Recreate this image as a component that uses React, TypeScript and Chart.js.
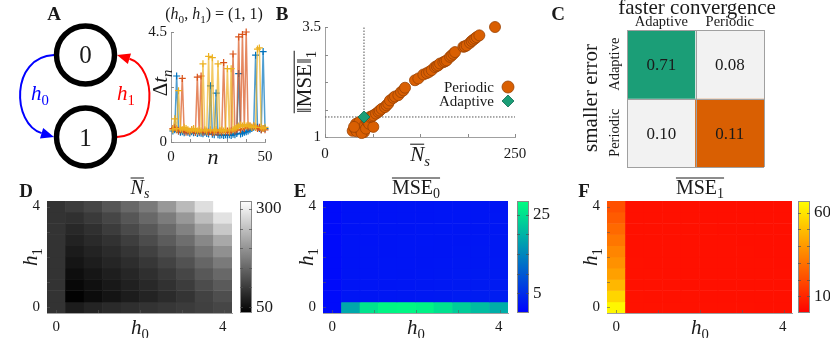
import React, { useEffect, useRef } from 'react';
import { Chart, registerables } from 'chart.js';

Chart.register(...registerables);

const SERIF = '"Liberation Serif", "DejaVu Serif", "Times New Roman", serif';
Chart.defaults.font.family = SERIF;
Chart.defaults.color = '#1a1a1a';

// ---------------- DATA ----------------
// A: two-state diagram
const STATES = ['0', '1'];
const STATE_X = [0, 0];
const STATE_Y = [1, 0];

// A inset: inter-sample intervals for (h0,h1) = (1,1)
const INSET_N = Array.from({ length: 50 }, (_, i) => i + 1);
const DT_BLUE = [0.45, 0.5, 2.7, 0.45, 0.4, 0.42, 0.38, 0.45, 0.4, 0.36, 0.42, 0.38, 0.4, 0.35, 0.38, 0.36, 0.34, 0.4, 0.35, 0.33, 2.3, 0.32, 0.3, 2.0, 0.3, 0.28, 0.3, 0.27, 0.3, 0.28, 0.3, 0.27, 0.32, 0.3, 0.35, 2.8, 0.33, 0.36, 0.4, 0.42, 0.45, 0.5, 0.55, 0.6, 3.55, 0.6, 0.55, 0.5, 3.7, 0.55];
const DT_ORANGE = [0.55, 0.6, 0.5, 0.45, 0.5, 2.6, 0.45, 0.4, 0.45, 0.42, 0.5, 0.45, 0.4, 2.65, 0.42, 2.7, 0.4, 0.45, 0.42, 0.4, 0.45, 0.38, 0.4, 0.42, 0.4, 0.45, 0.4, 3.25, 0.42, 0.45, 0.4, 0.45, 3.6, 0.45, 0.5, 4.3, 0.5, 4.4, 0.55, 4.5, 0.6, 0.65, 0.6, 0.65, 0.6, 0.55, 0.6, 0.5, 0.55, 0.5];
const DT_YELLOW = [0.5, 0.95, 0.55, 2.1, 0.55, 0.5, 0.6, 0.55, 0.5, 0.45, 0.5, 0.55, 0.5, 0.45, 0.5, 0.45, 3.2, 0.5, 0.45, 3.5, 0.5, 3.45, 0.45, 0.5, 3.2, 0.45, 0.5, 0.45, 0.5, 3.0, 0.45, 3.0, 0.5, 0.55, 0.6, 0.65, 0.7, 0.65, 0.7, 0.65, 0.7, 0.65, 0.6, 0.65, 0.6, 3.8, 3.85, 0.6, 0.55, 0.6];
const INSET_X_TICKS = [0, 10, 20, 30, 40, 50];
const INSET_Y_TICKS = [0, 2.25, 4.5];

// B: periodic vs adaptive
const PER_NS = [36.4, 39.5, 41.7, 43.9, 46.1, 47.4, 49.6, 51.3, 40.8, 45.2, 52.6, 54.8, 48.2, 38.2, 57.0, 53.9, 56.0, 58.0, 63.6,
  59.2, 61.5, 63.6, 67.1, 70.2, 72.0, 74.6, 78.9, 81.0, 83.3, 85.5, 89.9, 92.0, 96.5, 100.0, 103.1, 105.3, 118.4, 122.8, 129.4, 133.8, 137.0, 140.4, 144.7, 147.0, 149.1, 151.3, 155.7, 158.0, 160.1, 164.5, 166.5, 168.9, 171.1, 182.0, 184.0, 186.4, 190.8, 193.0, 195.2, 197.5, 199.6, 203.1, 223.7];
const PER_MSE = [1.14, 1.19, 1.13, 1.24, 1.17, 1.29, 1.21, 1.11, 1.30, 1.34, 1.27, 1.38, 1.09, 1.23, 1.42, 1.19, 1.35, 1.30, 1.23,
  1.455, 1.47, 1.49, 1.53, 1.57, 1.60, 1.64, 1.68, 1.72, 1.76, 1.83, 1.89, 1.92, 1.95, 2.02, 2.06, 2.12, 2.29, 2.33, 2.42, 2.45, 2.48, 2.52, 2.59, 2.61, 2.63, 2.67, 2.70, 2.72, 2.74, 2.82, 2.85, 2.89, 2.93, 3.05, 3.06, 3.08, 3.14, 3.18, 3.21, 3.24, 3.27, 3.31, 3.50];
const ADA_NS = [51.3];
const ADA_MSE = [1.455];
const B_X_TICKS = [0, 62.5, 125, 187.5, 250];
const B_Y_TICKS = [1, 1.625, 2.25, 2.875, 3.5];

// C: fraction of cases
const C_LABELS = ['Adaptive', 'Periodic'];
const C_VALUES = [[0.71, 0.08], [0.10, 0.11]];

// D-F: grids over (h0, h1); rows listed from h1 = 4 (top) down to h1 = 0
const H0 = [0, 0.44, 0.89, 1.33, 1.78, 2.22, 2.67, 3.11, 3.56, 4];
const H1 = [0, 0.44, 0.89, 1.33, 1.78, 2.22, 2.67, 3.11, 3.56, 4];
const NS_MEAN = [
  [92, 102, 113, 131, 151, 171, 205, 243, 283, 320],
  [92, 89, 100, 113, 131, 151, 174, 205, 247, 288],
  [92, 80, 89, 102, 118, 133, 153, 180, 216, 259],
  [92, 73, 82, 91, 104, 120, 138, 158, 187, 223],
  [92, 65, 74, 83, 94, 108, 123, 142, 167, 196],
  [92, 58, 67, 76, 85, 96, 110, 127, 149, 171],
  [92, 51, 60, 69, 77, 88, 99, 113, 133, 151],
  [92, 44, 53, 62, 71, 80, 90, 102, 120, 136],
  [92, 37, 48, 57, 66, 74, 83, 93, 109, 122],
  [92, 66, 75, 82, 88, 92, 96, 101, 107, 113],
];
const MSE0_MEAN = [
  [1.2, 2.0, 2.1, 2.1, 2.2, 2.2, 2.3, 2.3, 2.4, 2.4],
  [1.2, 2.0, 2.1, 2.1, 2.2, 2.2, 2.3, 2.3, 2.4, 2.5],
  [1.2, 2.0, 2.1, 2.2, 2.2, 2.3, 2.3, 2.4, 2.4, 2.5],
  [1.2, 2.1, 2.1, 2.2, 2.3, 2.3, 2.4, 2.4, 2.5, 2.6],
  [1.2, 2.1, 2.2, 2.2, 2.3, 2.4, 2.4, 2.5, 2.6, 2.6],
  [1.2, 2.1, 2.2, 2.3, 2.3, 2.4, 2.5, 2.6, 2.6, 2.7],
  [1.2, 2.2, 2.2, 2.3, 2.4, 2.5, 2.6, 2.7, 2.8, 2.8],
  [1.2, 2.2, 2.3, 2.4, 2.5, 2.6, 2.7, 2.8, 2.9, 3.0],
  [1.2, 2.3, 2.4, 2.5, 2.6, 2.7, 2.8, 3.0, 3.1, 3.2],
  [1.2, 18.8, 25.4, 27.4, 27.6, 27.1, 25.1, 22.8, 21.1, 19.4],
];
const MSE1_MEAN = [
  [21, 4.2, 4.2, 4.1, 4.1, 4.0, 4.0, 4.0, 3.9, 3.9],
  [24, 4.2, 4.2, 4.1, 4.1, 4.0, 4.0, 4.0, 3.9, 3.9],
  [27.5, 4.3, 4.2, 4.2, 4.1, 4.1, 4.0, 4.0, 4.0, 3.9],
  [31, 4.3, 4.2, 4.2, 4.1, 4.1, 4.1, 4.0, 4.0, 4.0],
  [35, 4.3, 4.3, 4.2, 4.2, 4.1, 4.1, 4.1, 4.0, 4.0],
  [38, 4.4, 4.3, 4.3, 4.2, 4.2, 4.1, 4.1, 4.1, 4.0],
  [42, 4.4, 4.4, 4.3, 4.3, 4.2, 4.2, 4.1, 4.1, 4.1],
  [48, 4.5, 4.4, 4.4, 4.3, 4.3, 4.2, 4.2, 4.2, 4.1],
  [56, 4.6, 4.5, 4.4, 4.4, 4.3, 4.3, 4.2, 4.2, 4.2],
  [65, 4.8, 4.7, 4.6, 4.5, 4.5, 4.4, 4.4, 4.3, 4.3],
];
const NS_RANGE = [35, 320];
const MSE0_RANGE = [0, 28.5];
const MSE1_RANGE = [0, 67];
const NS_CB_TICKS = [50, 100, 150, 200, 250, 300];
const NS_CB_LABELS = [50, 300];
const MSE0_CB_TICKS = [5, 10, 15, 20, 25];
const MSE0_CB_LABELS = [5, 25];
const MSE1_CB_TICKS = [10, 20, 30, 40, 50, 60];
const MSE1_CB_LABELS = [10, 60];
const H_TICKS = [0, 1, 2, 3, 4];

// ---------------- STYLE ----------------
const INK = '#1a1a1a';
const AXIS = '#a0a0a0';
const GREEN = '#1b9e77';
const ORANGE = '#d95f02';
const LIGHT = '#f2f2f2';
const CELL_COLORS = [[GREEN, LIGHT], [LIGHT, ORANGE]];
const SERIES_COLORS = ['#0072bd', '#d95319', '#edb120'];
const TICK_FONT = { family: SERIF, size: 15 };
const G = { display: true, drawOnChartArea: false, drawTicks: false };

const gray = (t: number) => { const v = Math.round(255 * t); return `rgb(${v},${v},${v})`; };
const winter = (t: number) => `rgb(0,${Math.round(255 * t)},${Math.round(255 * (1 - t / 2))})`;
const autumn = (t: number) => `rgb(255,${Math.round(255 * t)},0)`;
const clamp = (t: number) => Math.max(0, Math.min(1, t));

// ---------------- helpers ----------------
type Part = { t: string; it?: boolean; sub?: boolean; b?: boolean };
type Rich = { x: number; y: number; parts: Part[]; size: number; color?: string; align?: 'left' | 'center' | 'right'; rot?: boolean; over?: [number, number] };

function drawRich(ctx: CanvasRenderingContext2D, r: Rich) {
  const font = (p: Part) => `${p.it ? 'italic ' : ''}${p.b ? 'bold ' : ''}${p.sub ? r.size * 0.7 : r.size}px ${SERIF}`;
  ctx.save();
  ctx.translate(r.x, r.y);
  if (r.rot) ctx.rotate(-Math.PI / 2);
  ctx.fillStyle = r.color || INK;
  ctx.textAlign = 'left';
  ctx.textBaseline = 'alphabetic';
  const w = r.parts.map((p) => { ctx.font = font(p); return ctx.measureText(p.t).width; });
  const total = w.reduce((a, b) => a + b, 0);
  let x = r.align === 'left' ? 0 : r.align === 'right' ? -total : -total / 2;
  const xs: number[] = [];
  r.parts.forEach((p, i) => {
    ctx.font = font(p);
    xs.push(x);
    ctx.fillText(p.t, x, p.sub ? r.size * 0.22 : 0);
    x += w[i];
  });
  if (r.over) {
    const [a, b] = r.over;
    const yy = -r.size * 0.8;
    ctx.strokeStyle = r.color || INK;
    ctx.lineWidth = Math.max(1, r.size / 20);
    ctx.beginPath();
    ctx.moveTo(xs[a], yy);
    ctx.lineTo(xs[b] + w[b], yy);
    ctx.stroke();
  }
  ctx.restore();
}

type DecoOpts = { before?: (ctx: CanvasRenderingContext2D, chart: any) => void; after?: (ctx: CanvasRenderingContext2D, chart: any) => void; texts?: Rich[] };
function deco(ox: number, oy: number, f: DecoOpts) {
  return {
    id: 'deco',
    beforeDatasetsDraw(chart: any) {
      if (!f.before) return;
      const ctx = chart.ctx; ctx.save(); f.before(ctx, chart); ctx.restore();
    },
    afterDraw(chart: any) {
      const ctx = chart.ctx;
      if (f.after) { ctx.save(); f.after(ctx, chart); ctx.restore(); }
      if (f.texts) { ctx.save(); ctx.translate(-ox, -oy); f.texts.forEach((t) => drawRich(ctx, t)); ctx.restore(); }
    },
  };
}

function ticksIn(ctx: CanvasRenderingContext2D, chart: any, axis: 'x' | 'y', values: number[], len = 3, color = '#8a8a8a') {
  const a = chart.chartArea; const s = chart.scales[axis];
  ctx.strokeStyle = color; ctx.lineWidth = 1; ctx.beginPath();
  values.forEach((v) => {
    const p = Math.round(s.getPixelForValue(v)) + 0.5;
    if (axis === 'x') { ctx.moveTo(p, a.bottom); ctx.lineTo(p, a.bottom - len); }
    else { ctx.moveTo(a.left, p); ctx.lineTo(a.left + len, p); }
  });
  ctx.stroke();
}

const base = (padding: any) => ({
  responsive: false, maintainAspectRatio: false, animation: false as const, events: [] as any[],
  layout: { padding, autoPadding: false },
  plugins: { legend: { display: false }, tooltip: { enabled: false } },
});

const letter = (t: string, x: number, y: number): Rich => ({ x, y, parts: [{ t, b: true }], size: 19 });

// ---------------- panel A: diagram ----------------
function diagramConfig(ox: number, oy: number) {
  const R = 31.5;
  const arrow = (ctx: CanvasRenderingContext2D, p0: number[], c1: number[], c2: number[], tip: number[], color: string) => {
    const dx = tip[0] - c2[0], dy = tip[1] - c2[1];
    const L = Math.hypot(dx, dy); const ux = dx / L, uy = dy / L;
    const len = 13, hw = 5.5;
    const bx = tip[0] - ux * len, by = tip[1] - uy * len;
    ctx.strokeStyle = color; ctx.lineWidth = 2;
    ctx.beginPath(); ctx.moveTo(p0[0], p0[1]); ctx.bezierCurveTo(c1[0], c1[1], c2[0], c2[1], bx, by); ctx.stroke();
    ctx.fillStyle = color; ctx.beginPath();
    ctx.moveTo(tip[0], tip[1]); ctx.lineTo(bx - uy * hw, by + ux * hw); ctx.lineTo(bx + uy * hw, by - ux * hw); ctx.closePath(); ctx.fill();
  };
  const nodes = (chart: any) => STATES.map((_, i) => [chart.scales.x.getPixelForValue(STATE_X[i]), chart.scales.y.getPixelForValue(STATE_Y[i])]);
  return {
    type: 'scatter',
    data: { datasets: [{ data: STATES.map((_, i) => ({ x: STATE_X[i], y: STATE_Y[i] })), pointRadius: 29, pointBorderWidth: 5.5, pointBackgroundColor: '#fff', pointBorderColor: '#000', clip: false }] },
    options: {
      ...base(0),
      scales: { x: { display: false, min: -2.1375, max: 1.8625 }, y: { display: false, min: -0.4268, max: 1.6707 } },
    },
    plugins: [deco(ox, oy, {
      before: (ctx, chart) => {
        const [c0, c1] = nodes(chart);
        arrow(ctx, [c0[0] - R, c0[1]], [c0[0] - R - 44, c0[1] + 2], [c1[0] - R - 42, c1[1] - 13], [c1[0] - R, c1[1]], '#0000ff');
        arrow(ctx, [c1[0] + R, c1[1]], [c1[0] + R + 42, c1[1] - 2], [c0[0] + R + 40, c0[1] + 12], [c0[0] + R, c0[1]], '#ff0000');
      },
      after: (ctx, chart) => {
        nodes(chart).forEach((c, i) => drawRich(ctx, { x: c[0], y: c[1] + 8.5, parts: [{ t: STATES[i] }], size: 25 }));
      },
      texts: [
        letter('A', 54, 20),
        { x: 40, y: 100, parts: [{ t: 'h', it: true }, { t: '0', sub: true }], size: 21, color: '#0000ff' },
        { x: 126, y: 100, parts: [{ t: 'h', it: true }, { t: '1', sub: true }], size: 21, color: '#ff0000' },
      ],
    })],
  };
}

// ---------------- panel A inset ----------------
function insetConfig(ox: number, oy: number) {
  const series = [DT_BLUE, DT_ORANGE, DT_YELLOW];
  return {
    type: 'line',
    data: {
      datasets: series.map((vals, k) => ({
        data: INSET_N.map((n, i) => ({ x: n, y: vals[i] })),
        borderColor: SERIES_COLORS[k] + 'b0', borderWidth: 1.5, tension: 0,
        pointStyle: 'cross', pointRadius: 3.5, pointBorderWidth: 1.2, pointBorderColor: SERIES_COLORS[k],
        order: 2 - k, clip: false,
      })),
    },
    options: {
      ...base({ left: 0, right: 25, top: 32, bottom: 0 }),
      scales: {
        x: { type: 'linear', min: 0, max: 50, grid: G, border: { color: AXIS },
          afterBuildTicks: (s: any) => { s.ticks = [0, 50].map((value) => ({ value })); },
          ticks: { font: TICK_FONT, color: INK, padding: 6, maxRotation: 0 }, afterFit: (s: any) => { s.height = 30; } },
        y: { type: 'linear', min: 0, max: 4.5, grid: G, border: { color: AXIS },
          afterBuildTicks: (s: any) => { s.ticks = [0, 4.5].map((value) => ({ value })); },
          ticks: { font: TICK_FONT, color: INK, padding: 4 }, afterFit: (s: any) => { s.width = 26; } },
      },
    },
    plugins: [deco(ox, oy, {
      before: (ctx, chart) => { ticksIn(ctx, chart, 'x', INSET_X_TICKS); ticksIn(ctx, chart, 'y', INSET_Y_TICKS); },
      texts: [
        { x: 214, y: 19, parts: [{ t: '(' }, { t: 'h', it: true }, { t: '0', sub: true }, { t: ', ' }, { t: 'h', it: true }, { t: '1', sub: true }, { t: ') = (1, 1)' }], size: 16 },
        { x: 167, y: 83, rot: true, parts: [{ t: 'Δ' }, { t: 't', it: true }, { t: 'n', it: true, sub: true }], size: 21 },
        { x: 213, y: 164, parts: [{ t: 'n', it: true }], size: 22 },
      ],
    })],
  };
}

// ---------------- panel B ----------------
function scatterConfig(ox: number, oy: number) {
  const lastX = B_X_TICKS[B_X_TICKS.length - 1];
  const lastY = B_Y_TICKS[B_Y_TICKS.length - 1];
  return {
    type: 'scatter',
    data: {
      datasets: [
        { label: 'Periodic', data: PER_NS.map((x, i) => ({ x, y: PER_MSE[i] })), pointStyle: 'circle', pointRadius: 5.5,
          pointBackgroundColor: ORANGE, pointBorderColor: '#9a4304', pointBorderWidth: 0.8, clip: false, order: 1 },
        { label: 'Adaptive', data: ADA_NS.map((x, i) => ({ x, y: ADA_MSE[i] })), pointStyle: 'rectRot', pointRadius: 6,
          pointBackgroundColor: GREEN, pointBorderColor: '#106a50', pointBorderWidth: 0.8, clip: false, order: 0 },
      ],
    },
    options: {
      ...base({ left: 0, right: 45, top: 27, bottom: 0 }),
      scales: {
        x: { type: 'linear', min: B_X_TICKS[0], max: lastX, grid: G, border: { color: AXIS },
          afterBuildTicks: (s: any) => { s.ticks = [B_X_TICKS[0], lastX].map((value) => ({ value })); },
          ticks: { font: TICK_FONT, color: INK, padding: 8, maxRotation: 0 }, afterFit: (s: any) => { s.height = 35; } },
        y: { type: 'linear', min: B_Y_TICKS[0], max: lastY, grid: G, border: { color: AXIS },
          afterBuildTicks: (s: any) => { s.ticks = [B_Y_TICKS[0], lastY].map((value) => ({ value })); },
          ticks: { font: TICK_FONT, color: INK, padding: 4 }, afterFit: (s: any) => { s.width = 63; } },
      },
    },
    plugins: [deco(ox, oy, {
      before: (ctx, chart) => {
        ticksIn(ctx, chart, 'x', B_X_TICKS); ticksIn(ctx, chart, 'y', B_Y_TICKS);
        const xs = chart.scales.x, ys = chart.scales.y;
        const px = xs.getPixelForValue(ADA_NS[0]), py = ys.getPixelForValue(ADA_MSE[0]);
        ctx.setLineDash([1.5, 1.5]); ctx.lineWidth = 1; ctx.strokeStyle = '#555';
        ctx.beginPath();
        ctx.moveTo(px, ys.getPixelForValue(ys.min)); ctx.lineTo(px, ys.getPixelForValue(ys.max));
        ctx.moveTo(xs.getPixelForValue(xs.min), py); ctx.lineTo(xs.getPixelForValue(xs.max), py);
        ctx.stroke();
      },
      after: (ctx, chart) => {
        ctx.translate(-ox, -oy);
        const ds = chart.data.datasets;
        const lx = 508, ly = [87, 101];
        ds.forEach((d: any, i: number) => {
          drawRich(ctx, { x: lx - 14, y: ly[i] + 5, parts: [{ t: d.label }], size: 15, align: 'right' });
          ctx.fillStyle = d.pointBackgroundColor; ctx.strokeStyle = d.pointBorderColor; ctx.lineWidth = 0.8;
          ctx.beginPath();
          if (d.pointStyle === 'circle') ctx.arc(lx, ly[i], 6, 0, Math.PI * 2);
          else { ctx.moveTo(lx, ly[i] - 6); ctx.lineTo(lx + 6, ly[i]); ctx.lineTo(lx, ly[i] + 6); ctx.lineTo(lx - 6, ly[i]); ctx.closePath(); }
          ctx.fill(); ctx.stroke();
        });
      },
      texts: [
        letter('B', 282, 20),
        { x: 311, y: 82, rot: true, parts: [{ t: '‖MSE‖' }, { t: '1', sub: true }], size: 21, over: [0, 1] },
        { x: 420, y: 161, parts: [{ t: 'N', it: true }, { t: 's', it: true, sub: true }], size: 21, over: [0, 0] },
      ],
    })],
  };
}

// ---------------- panel C ----------------
function matrixConfig(ox: number, oy: number) {
  return {
    type: 'bar',
    data: {
      labels: C_LABELS,
      datasets: C_LABELS.map((row, r) => ({
        label: row,
        data: C_LABELS.map(() => [r, r + 1]),
        backgroundColor: C_LABELS.map((_, c) => CELL_COLORS[r][c]),
        borderWidth: 0, grouped: false, barPercentage: 1, categoryPercentage: 1,
      })),
    },
    options: {
      ...base({ left: 79, right: 66, top: 30, bottom: 5 }),
      scales: {
        x: { type: 'category', offset: true, display: false },
        y: { type: 'linear', min: 0, max: C_LABELS.length, reverse: true, display: false },
      },
    },
    plugins: [deco(ox, oy, {
      after: (ctx, chart) => {
        const xs = chart.scales.x, ys = chart.scales.y, a = chart.chartArea;
        ctx.strokeStyle = '#a0a0a0'; ctx.lineWidth = 1; ctx.beginPath();
        const xb = [a.left, (xs.getPixelForValue(0) + xs.getPixelForValue(1)) / 2, a.right];
        xb.forEach((x) => { const p = Math.round(x) + 0.5; ctx.moveTo(p, a.top); ctx.lineTo(p, a.bottom); });
        [0, 1, 2].forEach((v) => { const p = Math.round(ys.getPixelForValue(v)) + 0.5; ctx.moveTo(a.left, p); ctx.lineTo(a.right, p); });
        ctx.stroke();
        C_VALUES.forEach((row, r) => row.forEach((v, c) => {
          drawRich(ctx, { x: xs.getPixelForValue(c), y: ys.getPixelForValue(r + 0.5) + 6, parts: [{ t: v.toFixed(2) }], size: 17 });
        }));
        C_LABELS.forEach((lab, i) => {
          drawRich(ctx, { x: xs.getPixelForValue(i), y: a.top - 4, parts: [{ t: lab }], size: 14.5 });
          drawRich(ctx, { x: a.left - 8, y: ys.getPixelForValue(i + 0.5), rot: true, parts: [{ t: lab }], size: 14.5 });
        });
      },
      texts: [
        letter('C', 558, 20),
        { x: 697, y: 14, parts: [{ t: 'faster convergence' }], size: 21 },
        { x: 597, y: 98, rot: true, parts: [{ t: 'smaller error' }], size: 21 },
      ],
    })],
  };
}

// ---------------- panels D-F ----------------
function heatConfig(ox: number, oy: number, vals: number[][], cmap: (t: number) => string, range: number[], texts: Rich[]) {
  const half = (H1[1] - H1[0]) / 2;
  const nR = vals.length;
  const step = H0[1] - H0[0];
  return {
    type: 'bar',
    data: {
      labels: H0.map(String),
      datasets: vals.map((row, r) => {
        const h1 = H1[nR - 1 - r];
        return {
          data: row.map(() => [h1 - half, h1 + half]),
          backgroundColor: row.map((v) => cmap(clamp((v - range[0]) / (range[1] - range[0])))),
          borderWidth: 0, grouped: false, barPercentage: 1, categoryPercentage: 1,
        };
      }),
    },
    options: {
      ...base({ left: 0, right: 6, top: 29, bottom: 0 }),
      scales: {
        x: { type: 'category', offset: true, grid: G, border: { color: AXIS },
          ticks: { font: TICK_FONT, color: INK, padding: 5, autoSkip: false, maxRotation: 0,
            callback: (_v: any, i: number) => (i === 0 || i === H0.length - 1 ? String(H0[i]) : '') },
          afterFit: (s: any) => { s.height = 25; } },
        y: { type: 'linear', min: H1[0] - half, max: H1[H1.length - 1] + half, grid: G, border: { color: AXIS },
          afterBuildTicks: (s: any) => { s.ticks = [H1[0], H1[H1.length - 1]].map((value) => ({ value })); },
          ticks: { font: TICK_FONT, color: INK, padding: 7 }, afterFit: (s: any) => { s.width = 47; } },
      },
    },
    plugins: [deco(ox, oy, {
      after: (ctx, chart) => {
        const a = chart.chartArea, xs = chart.scales.x;
        ctx.strokeStyle = 'rgba(90,90,90,0.6)'; ctx.lineWidth = 1; ctx.beginPath();
        H_TICKS.forEach((v) => {
          const px = Math.round(xs.getPixelForValue(v / step)) + 0.5;
          ctx.moveTo(px, a.bottom); ctx.lineTo(px, a.bottom - 3);
          const py = Math.round(chart.scales.y.getPixelForValue(v)) + 0.5;
          ctx.moveTo(a.left, py); ctx.lineTo(a.left + 3, py);
        });
        ctx.stroke();
      },
      texts,
    })],
  };
}

function colorbarConfig(ox: number, oy: number, cmap: (t: number) => string, range: number[], tickVals: number[], labels: number[], axisW: number) {
  return {
    type: 'bar',
    data: {
      labels: [''],
      datasets: [{
        data: [[range[0], range[1]]],
        backgroundColor: (c: any) => {
          const a = c.chart.chartArea;
          if (!a) return cmap(0.5);
          const g = c.chart.ctx.createLinearGradient(0, a.bottom, 0, a.top);
          for (let i = 0; i <= 20; i++) g.addColorStop(i / 20, cmap(i / 20));
          return g;
        },
        borderWidth: 0, barPercentage: 1, categoryPercentage: 1,
      }],
    },
    options: {
      ...base({ left: 3, right: 0, top: 29, bottom: 25 }),
      scales: {
        x: { display: false },
        y: { type: 'linear', position: 'right', min: range[0], max: range[1], grid: G, border: { display: false },
          afterBuildTicks: (s: any) => { s.ticks = labels.map((value) => ({ value })); },
          ticks: { font: { family: SERIF, size: 17 }, color: INK, padding: 4 }, afterFit: (s: any) => { s.width = axisW; } },
      },
    },
    plugins: [deco(ox, oy, {
      after: (ctx, chart) => {
        const a = chart.chartArea, ys = chart.scales.y;
        ctx.strokeStyle = '#8a8a8a'; ctx.lineWidth = 1;
        ctx.strokeRect(Math.round(a.left) + 0.5, Math.round(a.top) + 0.5, Math.round(a.right - a.left) - 1, Math.round(a.bottom - a.top) - 1);
        ctx.strokeStyle = 'rgba(80,80,80,0.7)'; ctx.beginPath();
        tickVals.forEach((v) => {
          const p = Math.round(ys.getPixelForValue(v)) + 0.5;
          ctx.moveTo(a.left, p); ctx.lineTo(a.left + 3, p);
          ctx.moveTo(a.right - 3, p); ctx.lineTo(a.right, p);
        });
        ctx.stroke();
      },
    })],
  };
}

const hLabels = (cx: number, left: number): Rich[] => [
  { x: left - 10, y: 257, rot: true, parts: [{ t: 'h', it: true }, { t: '1', sub: true }], size: 21 },
  { x: cx, y: 334, parts: [{ t: 'h', it: true }, { t: '0', sub: true }], size: 21 },
];

// ---------------- React ----------------
function Box({ rect, build }: { rect: number[]; build: (ox: number, oy: number) => any }) {
  const ref = useRef<HTMLCanvasElement | null>(null);
  useEffect(() => {
    const chart = new Chart(ref.current as HTMLCanvasElement, build(rect[0], rect[1]));
    return () => chart.destroy();
  }, []);
  return (
    <canvas ref={ref} width={rect[2]} height={rect[3]}
      style={{ position: 'absolute', left: rect[0], top: rect[1], width: rect[2], height: rect[3] }} />
  );
}

export default function App() {
  return (
    <div style={{ position: 'absolute', left: 0, top: 0, width: 830, height: 338, background: '#fff', overflow: 'hidden' }}>
      <Box rect={[0, 0, 160, 172]} build={diagramConfig} />
      <Box rect={[145, 0, 145, 172]} build={insetConfig} />
      <Box rect={[262, 0, 298, 172]} build={scatterConfig} />
      <Box rect={[548, 0, 282, 172]} build={matrixConfig} />
      <Box rect={[0, 172, 238, 166]} build={(ox, oy) => heatConfig(ox, oy, NS_MEAN, gray, NS_RANGE, [
        letter('D', 26, 197),
        { x: 140, y: 194, parts: [{ t: 'N', it: true }, { t: 's', it: true, sub: true }], size: 20, over: [0, 0] },
        ...hLabels(140, 47),
      ])} />
      <Box rect={[237, 172, 61, 166]} build={(ox, oy) => colorbarConfig(ox, oy, gray, NS_RANGE, NS_CB_TICKS, NS_CB_LABELS, 46)} />
      <Box rect={[276, 172, 238, 166]} build={(ox, oy) => heatConfig(ox, oy, MSE0_MEAN, winter, MSE0_RANGE, [
        letter('E', 300, 197),
        { x: 416, y: 194, parts: [{ t: 'MSE' }, { t: '0', sub: true }], size: 20, over: [0, 1] },
        ...hLabels(416, 323),
      ])} />
      <Box rect={[514, 172, 50, 166]} build={(ox, oy) => colorbarConfig(ox, oy, winter, MSE0_RANGE, MSE0_CB_TICKS, MSE0_CB_LABELS, 35)} />
      <Box rect={[560, 172, 238, 166]} build={(ox, oy) => heatConfig(ox, oy, MSE1_MEAN, autumn, MSE1_RANGE, [
        letter('F', 584, 197),
        { x: 700, y: 194, parts: [{ t: 'MSE' }, { t: '1', sub: true }], size: 20, over: [0, 1] },
        ...hLabels(700, 607),
      ])} />
      <Box rect={[795, 172, 35, 166]} build={(ox, oy) => colorbarConfig(ox, oy, autumn, MSE1_RANGE, MSE1_CB_TICKS, MSE1_CB_LABELS, 20)} />
    </div>
  );
}
